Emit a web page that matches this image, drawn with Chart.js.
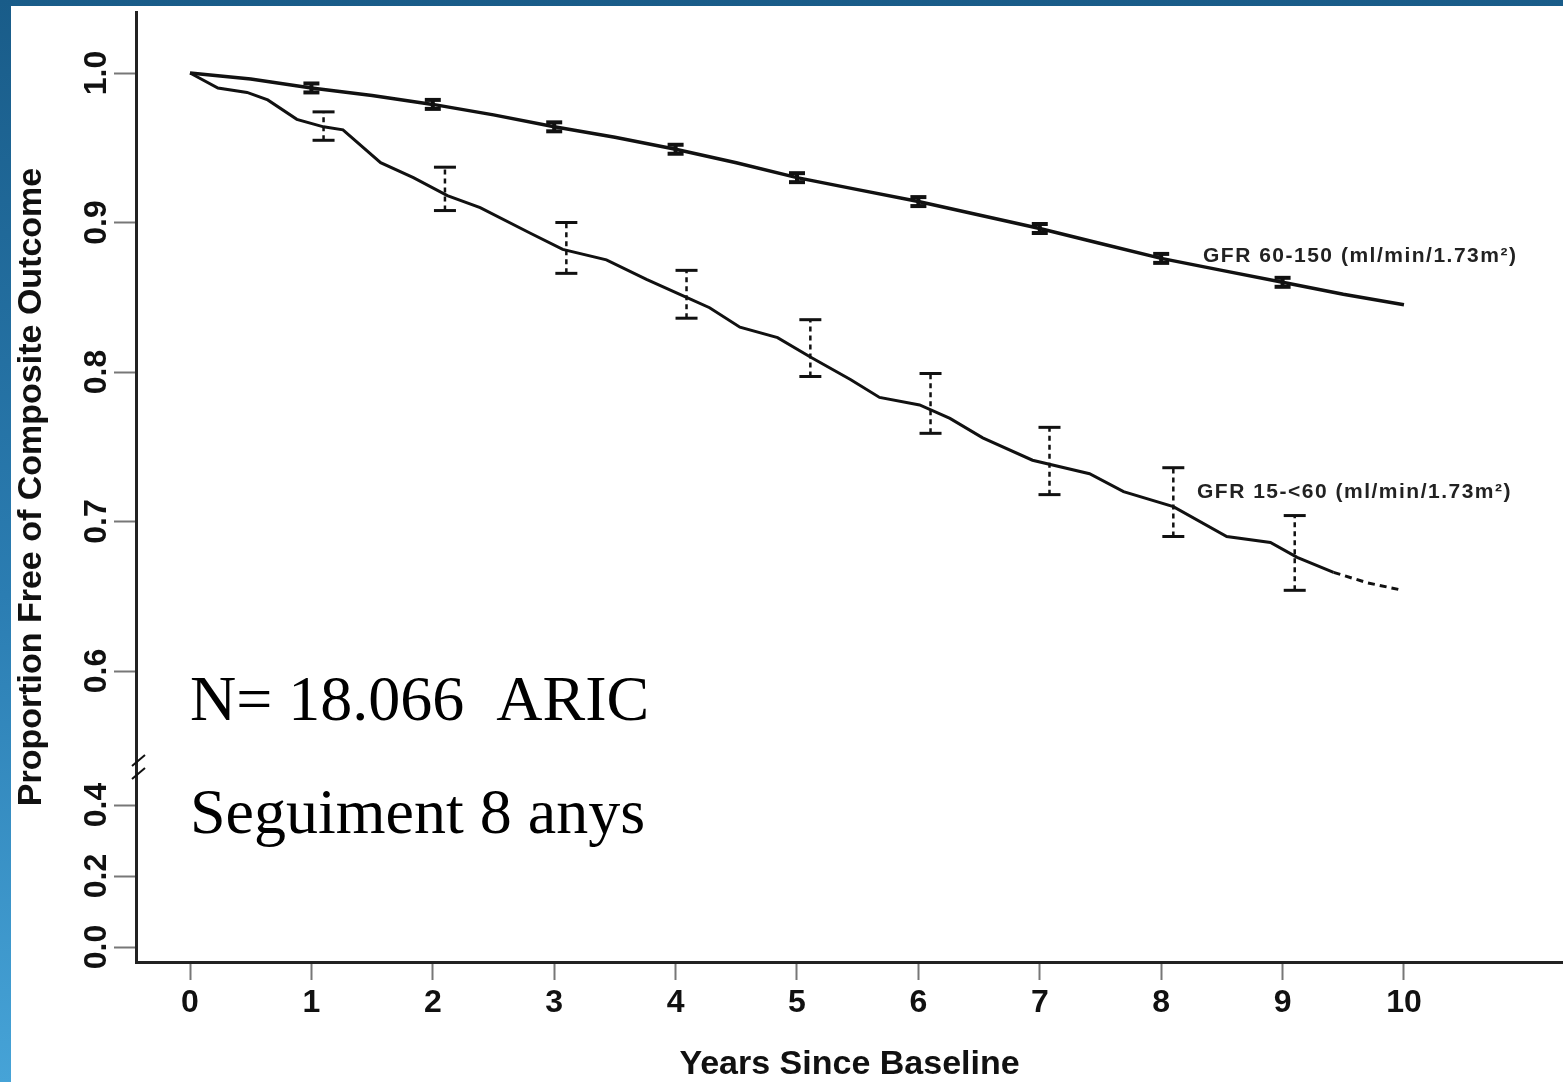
<!DOCTYPE html>
<html>
<head>
<meta charset="utf-8">
<script src="https://cdn.jsdelivr.net/npm/chart.js@4.4.0/dist/chart.umd.min.js"></script>
<style>
html, body { margin: 0; padding: 0; }
body {
    width: 1563px; height: 1082px; overflow: hidden;
    background: linear-gradient(to bottom, #195c89 0%, #2b7db2 55%, #46a3d7 100%);
}
#frame { position: absolute; left: 11px; top: 6px; width: 1552px; height: 1076px; background: #fff; }
</style>
</head>
<body>
<div id="frame"><canvas id="myChart" width="1552" height="1076"></canvas></div>
<script>
// years since baseline, proportion free of composite outcome
var upperX = [0, 0.5, 1, 1.5, 2, 2.5, 3, 3.5, 4, 4.5, 5, 5.5, 6, 6.5, 7, 7.5, 8, 8.5, 9, 9.5, 10];
var upperY = [1.000, 0.996, 0.990, 0.985, 0.979, 0.972, 0.964, 0.957, 0.949, 0.940, 0.930, 0.922, 0.914, 0.905, 0.896, 0.886, 0.876, 0.868, 0.860, 0.852, 0.845];

var lowerX = [0, 0.23, 0.47, 0.64, 0.88, 1.10, 1.26, 1.57, 1.84, 2.12, 2.39, 2.80, 3.07, 3.43, 3.76, 4.09, 4.28, 4.53, 4.84, 5.11, 5.44, 5.68, 6.01, 6.26, 6.53, 6.94, 7.41, 7.69, 8.10, 8.54, 8.90, 9.12, 9.42, 9.70, 9.99];
var lowerY = [1.000, 0.990, 0.987, 0.982, 0.969, 0.964, 0.962, 0.940, 0.930, 0.918, 0.910, 0.893, 0.882, 0.875, 0.862, 0.850, 0.843, 0.830, 0.823, 0.810, 0.795, 0.783, 0.778, 0.769, 0.756, 0.741, 0.732, 0.720, 0.710, 0.690, 0.686, 0.676, 0.666, 0.659, 0.654];

// confidence bars
var upperBarX = [1, 2, 3, 4, 5, 6, 7, 8, 9];
var upperBarLo = [0.987, 0.976, 0.961, 0.946, 0.927, 0.911, 0.893, 0.873, 0.857];
var upperBarHi = [0.993, 0.982, 0.967, 0.952, 0.933, 0.917, 0.899, 0.879, 0.863];

var lowerBarX = [1.10, 2.10, 3.10, 4.09, 5.11, 6.10, 7.08, 8.10, 9.10];
var lowerBarLo = [0.955, 0.908, 0.866, 0.836, 0.797, 0.759, 0.718, 0.690, 0.654];
var lowerBarHi = [0.974, 0.937, 0.900, 0.868, 0.835, 0.799, 0.763, 0.736, 0.704];

var xTicks = [0, 1, 2, 3, 4, 5, 6, 7, 8, 9, 10];
var yTicks = [0.0, 0.2, 0.4, 0.6, 0.7, 0.8, 0.9, 1.0];
var yTickLabels = ["0.0", "0.2", "0.4", "0.6", "0.7", "0.8", "0.9", "1.0"];

var upperLabel = "GFR 60-150 (ml/min/1.73m\u00B2)";
var lowerLabel = "GFR 15-<60 (ml/min/1.73m\u00B2)";

// broken y axis: below 0.6 the scale is squeezed
var LOW_BASE = 0.4154, LOW_SCALE = 0.2375;
function axisPos(p) {
    return p >= 0.6 ? p : LOW_BASE + p * LOW_SCALE;
}
function pts(xs, ys) {
    return xs.map(function (x, i) { return { x: x, y: axisPos(ys[i]) }; });
}
function barPts(xs, lo, hi) {
    var out = [];
    for (var i = 0; i < xs.length; i++) {
        out.push({ x: xs[i], y: axisPos(lo[i]) });
        out.push({ x: xs[i], y: axisPos(hi[i]) });
        out.push({ x: xs[i], y: null });
    }
    return out;
}

var sans = "'Liberation Sans', Arial, sans-serif";

var notes = {
    id: 'notes',
    afterDraw: function (chart) {
        var ctx = chart.ctx;
        ctx.save();
        ctx.fillStyle = '#000';
        ctx.font = "64px 'Liberation Serif', 'Times New Roman', serif";
        ctx.textBaseline = 'alphabetic';
        ctx.textAlign = 'left';
        ctx.fillText("N= 18.066  ARIC", 179, 714);
        ctx.fillText("Seguiment 8 anys", 179, 827);

        ctx.fillStyle = '#222';
        ctx.font = "bold 21px " + sans;
        ctx.letterSpacing = '1.5px';
        ctx.textBaseline = 'middle';
        ctx.fillText(upperLabel, 1192, 250);
        ctx.fillText(lowerLabel, 1186, 486);

        // axis break marks
        var left = chart.chartArea.left;
        ctx.strokeStyle = '#111';
        ctx.lineWidth = 2;
        ctx.beginPath();
        ctx.moveTo(left - 4, 760); ctx.lineTo(left + 9, 749);
        ctx.moveTo(left - 4, 773); ctx.lineTo(left + 9, 762);
        ctx.stroke();
        ctx.restore();
    }
};

new Chart("myChart", {
    type: "line",
    data: {
        datasets: [{
            data: pts(upperX, upperY),
            borderColor: '#111',
            borderWidth: 3.5,
            pointRadius: 0,
            tension: 0
        }, {
            data: pts(lowerX, lowerY),
            borderColor: '#111',
            borderWidth: 3,
            pointRadius: 0,
            tension: 0,
            segment: {
                borderDash: function (c) { return c.p0.parsed.x >= 9.4 ? [7, 5] : undefined; }
            }
        }, {
            data: barPts(upperBarX, upperBarLo, upperBarHi),
            borderColor: '#111',
            borderWidth: 4,
            pointStyle: 'line',
            pointRadius: 8,
            pointBorderWidth: 4,
            spanGaps: false
        }, {
            data: barPts(lowerBarX, lowerBarLo, lowerBarHi),
            borderColor: '#111',
            borderWidth: 2.5,
            borderDash: [5, 4],
            pointStyle: 'line',
            pointRadius: 11,
            pointBorderWidth: 3,
            spanGaps: false
        }]
    },
    options: {
        responsive: false,
        animation: false,
        layout: { autoPadding: false, padding: { top: 6, left: 0, right: 0, bottom: 0 } },
        plugins: {
            legend: { display: false },
            tooltip: { enabled: false }
        },
        scales: {
            x: {
                type: 'linear',
                min: -0.445,
                max: 11.31,
                afterBuildTicks: function (s) { s.ticks = xTicks.map(function (v) { return { value: v }; }); },
                afterFit: function (s) { s.height = 120; s.paddingLeft = 0; s.paddingRight = 0; },
                grid: { drawOnChartArea: false, drawTicks: true, tickLength: 18, tickColor: '#777', tickWidth: 2 },
                border: { display: true, color: '#222', width: 3 },
                ticks: {
                    autoSkip: false, maxRotation: 0, padding: 4, color: '#111',
                    font: { family: sans, size: 32, weight: 'bold' },
                    callback: function (v) { return String(v); }
                },
                title: {
                    display: true, text: 'Years Since Baseline', color: '#111',
                    font: { family: sans, size: 34, weight: 'bold', lineHeight: 1 },
                    padding: { top: 0, bottom: 0 }
                }
            },
            y: {
                type: 'linear',
                min: 0.4054,
                max: 1.0408,
                afterBuildTicks: function (s) { s.ticks = yTicks.map(function (v) { return { value: axisPos(v) }; }); },
                afterFit: function (s) { s.width = 125; s.paddingTop = 0; s.paddingBottom = 0; },
                grid: { drawOnChartArea: false, drawTicks: true, tickLength: 22, tickColor: '#777', tickWidth: 2 },
                border: { display: true, color: '#222', width: 3 },
                ticks: {
                    autoSkip: false, minRotation: 90, maxRotation: 90, crossAlign: 'center', padding: -5,
                    color: '#111',
                    font: { family: sans, size: 32, weight: 'bold' },
                    callback: function (v, i) { return yTickLabels[i]; }
                },
                title: {
                    display: true, text: 'Proportion Free of Composite Outcome', color: '#111',
                    font: { family: sans, size: 34, weight: 'bold', lineHeight: 1 },
                    padding: { top: 4, bottom: 0 }
                }
            }
        }
    },
    plugins: [notes]
});
</script>
</body>
</html>
